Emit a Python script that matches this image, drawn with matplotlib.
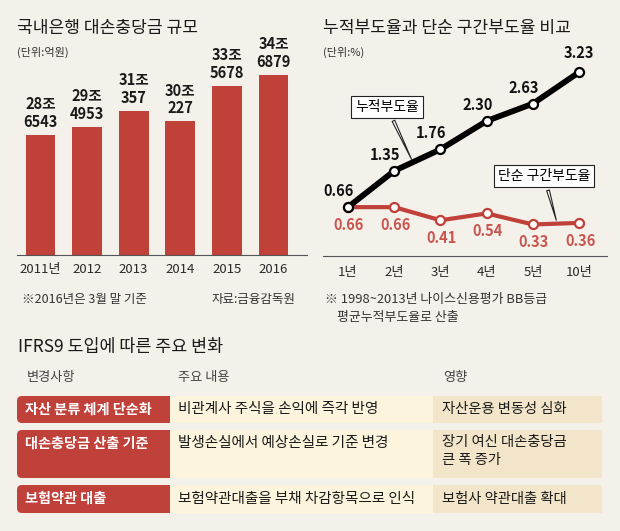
import matplotlib.pyplot as plt
from matplotlib.patches import FancyBboxPatch, Rectangle

plt.rcParams['font.family'] = ['Noto Sans CJK KR', 'DejaVu Sans']

W, H = 620, 531
BG = '#f4f0ea'
RED = '#c0403a'

# 국내은행 대손충당금 규모 (억원)
years = ['2011년', '2012', '2013', '2014', '2015', '2016']
provision = [286543, 294953, 310357, 300227, 335678, 346879]

# 누적부도율 vs 단순 구간부도율 (%)
periods = ['1년', '2년', '3년', '4년', '5년', '10년']
cumulative = [0.66, 1.35, 1.76, 2.30, 2.63, 3.23]
marginal = [0.66, 0.66, 0.41, 0.54, 0.33, 0.36]

# IFRS9 table
changes = ['자산 분류 체계 단순화', '대손충당금 산출 기준', '보험약관 대출']
contents = ['비관계사 주식을 손익에 즉각 반영', '발생손실에서 예상손실로 기준 변경',
            '보험약관대출을 부채 차감항목으로 인식']
impacts = ['자산운용 변동성 심화', '장기 여신 대손충당금\n큰 폭 증가', '보험사 약관대출 확대']


def rect(x0, y0, x1, y1):
    # pixel box (from top-left) -> figure fraction
    return [x0 / W, 1 - y1 / H, (x1 - x0) / W, (y1 - y0) / H]


def ftext(x, y, s, **kw):
    kw.setdefault('va', 'center')
    fig.text(x / W, 1 - y / H, s, **kw)


fig = plt.figure(figsize=(W / 100, H / 100), dpi=100, facecolor=BG)

# ---------------- left: bar chart
ax1 = fig.add_axes(rect(17, 60, 307, 255))
ax1.set_facecolor('none')
x = range(len(years))
bars = ax1.bar(x, provision, width=0.64, color=RED)
ax1.set_xlim(-0.504, 5.72)
ax1.set_ylim(166000, 362000)
for i, v in enumerate(provision):
    ax1.annotate(f'{v // 10000}조\n{v % 10000}', (i, v), xytext=(0, 5),
                 textcoords='offset pixels', ha='center', va='bottom',
                 fontsize=10.5, fontweight='bold', linespacing=1.15, color='#1a1a1a')
ax1.set_xticks(list(x), years)
ax1.tick_params(length=0, pad=6, labelsize=9.5, labelcolor='#2a2a2a')
ax1.set_yticks([])
for s in ['left', 'right', 'top']:
    ax1.spines[s].set_visible(False)
ax1.spines['bottom'].set_color('#555555')

ftext(17, 28, '국내은행 대손충당금 규모', fontsize=12.3, color='#1a1a1a')
ftext(17, 52, '(단위:억원)', fontsize=8, color='#333333')
ftext(22, 300, '※2016년은 3월 말 기준', fontsize=9, color='#333333')
ftext(295, 300, '자료:금융감독원', fontsize=9, color='#333333', ha='right')

# ---------------- right: line chart
ax2 = fig.add_axes(rect(323, 60, 607, 256))
ax2.set_facecolor('none')
xi = list(range(len(periods)))
ax2.plot(xi, marginal, color=RED, lw=3, marker='o', ms=6.5,
         mfc='white', mec=RED, mew=1.6, zorder=3)
ax2.plot(xi, cumulative, color='black', lw=4.2, marker='o', ms=6.5,
         mfc='white', mec='black', mew=1.6, zorder=4)
ax2.set_xlim(-0.54, 5.6)
ax2.set_ylim(-0.27, 3.46)
for i, v in enumerate(cumulative):
    off = (0, 19) if i == len(cumulative) - 1 else (-9, 16)
    ax2.annotate(f'{v:.2f}', (i, v), xytext=off, textcoords='offset pixels',
                 ha='center', va='center', fontsize=10.5, fontweight='bold', color='#111111')
for i, v in enumerate(marginal):
    ax2.annotate(f'{v:.2f}', (i, v), xytext=(1, -18), textcoords='offset pixels',
                 ha='center', va='center', fontsize=10.5, fontweight='bold', color='#c9554e')
ax2.set_xticks(xi, periods)
ax2.tick_params(length=0, pad=7, labelsize=9.5, labelcolor='#2a2a2a')
ax2.set_yticks([])
for s in ['left', 'right', 'top']:
    ax2.spines[s].set_visible(False)
ax2.spines['bottom'].set_color('#555555')

callout = dict(boxstyle='square,pad=0.3', fc='white', ec='#222222', lw=0.8)
wedge = dict(arrowstyle='wedge,tail_width=0.2,shrink_factor=0.5',
             fc='white', ec='#222222', lw=0.8)
ax2.annotate('누적부도율', xy=(1.4, 1.52), xytext=(0.84, 2.57), ha='center', va='center',
             fontsize=10, bbox=callout, arrowprops=wedge, zorder=5)
ax2.annotate('단순 구간부도율', xy=(4.52, 0.36), xytext=(4.24, 1.25), ha='center', va='center',
             fontsize=10, bbox=callout, arrowprops=wedge, zorder=5)

ftext(323, 28, '누적부도율과 단순 구간부도율 비교', fontsize=12.3, color='#1a1a1a')
ftext(323, 52, '(단위:%)', fontsize=8, color='#333333')
ftext(325, 300, '※ 1998~2013년 나이스신용평가 BB등급', fontsize=9.3, color='#333333')
ftext(337, 318, '평균누적부도율로 산출', fontsize=9.3, color='#333333')

# ---------------- bottom: table
tb = fig.add_axes([0, 0, 1, 1], zorder=-1)
tb.set_xlim(0, W)
tb.set_ylim(H, 0)
tb.axis('off')

ftext(18, 347, 'IFRS9 도입에 따른 주요 변화', fontsize=12.5, color='#1a1a1a')
ftext(27, 378, '변경사항', fontsize=9.5, color='#444444')
ftext(178, 378, '주요 내용', fontsize=9.5, color='#444444')
ftext(443, 378, '영향', fontsize=9.5, color='#444444')

rows = [(396, 423), (430, 478), (485, 513)]
for (y0, y1), c, m, im in zip(rows, changes, contents, impacts):
    tb.add_patch(FancyBboxPatch((17, y0), 153, y1 - y0,
                                boxstyle='round,pad=0,rounding_size=5', fc=RED, ec='none'))
    tb.add_patch(Rectangle((150, y0), 20, y1 - y0, fc=RED, ec='none'))
    tb.add_patch(Rectangle((170, y0), 263, y1 - y0, fc='#fcf4dc', ec='none'))
    tb.add_patch(Rectangle((433, y0), 169, y1 - y0, fc='#f2e5c9', ec='none'))
    ty = y0 + 13.5
    tb.text(25, ty, c, fontsize=10.2, fontweight='bold', color='white', va='center')
    tb.text(178, ty, m, fontsize=10.5, color='#1a1a1a', va='center')
    tb.text(442, ty, im, fontsize=10.3, color='#1a1a1a', va='top' if '\n' in im else 'center',
            linespacing=1.35)

# fix top alignment of the two-line impact cell
for t in tb.texts:
    if '\n' in t.get_text():
        t.set_y(rows[1][0] + 5)

fig.savefig('out.png', dpi=100, facecolor=BG)
